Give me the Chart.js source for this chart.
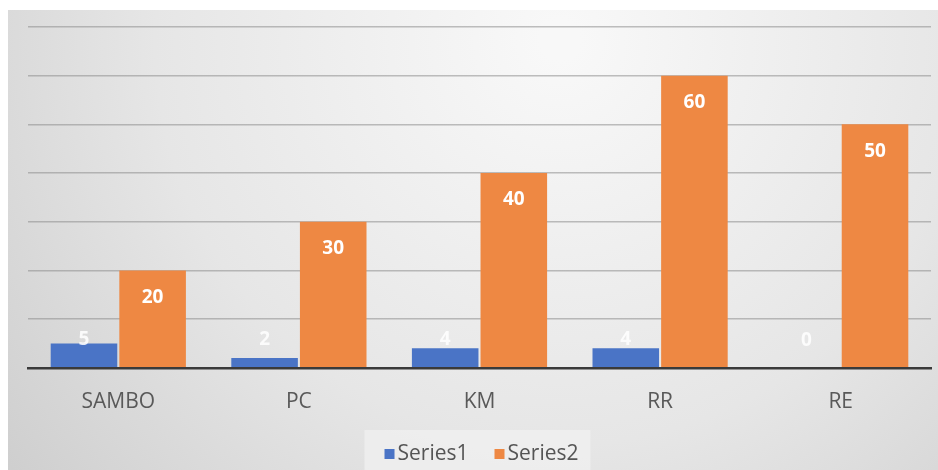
<!DOCTYPE html>
<html>
<head>
<meta charset="utf-8">
<script src="https://cdn.jsdelivr.net/npm/chart.js@4.4.1/dist/chart.umd.min.js"></script>
<style>
    html, body { margin: 0; padding: 0; background: #ffffff; }
    #wrap { width: 938px; height: 470px; }
</style>
</head>
<body>
<div id="wrap"><canvas id="barChart" width="938" height="470"></canvas></div>
<script>
// Chart data
const categories = ['SAMBO', 'PC', 'KM', 'RR', 'RE'];
const series1 = [5, 2, 4, 4, 0];
const series2 = [20, 30, 40, 60, 50];
const seriesNames = ['Series1', 'Series2'];
const seriesColors = ['#4a74c6', '#ee8843'];

const FONT = '"Open Sans", sans-serif';

// Gray gradient panel behind the chart
const backgroundPlugin = {
    id: 'panelBackground',
    beforeDraw(chart) {
        const ctx = chart.ctx;
        ctx.save();
        const g = ctx.createRadialGradient(560, 40, 20, 560, 40, 720);
        g.addColorStop(0, '#f8f8f8');
        g.addColorStop(0.55, '#e6e6e6');
        g.addColorStop(1, '#cdcdcd');
        ctx.fillStyle = g;
        ctx.fillRect(8, 10, chart.width - 8, chart.height - 10);
        ctx.restore();
    }
};

// White value labels near the top of each bar
const valueLabelPlugin = {
    id: 'valueLabels',
    afterDatasetsDraw(chart) {
        const ctx = chart.ctx;
        ctx.save();
        ctx.font = 'bold 19px ' + FONT;
        ctx.textAlign = 'center';
        ctx.textBaseline = 'middle';
        chart.data.datasets.forEach((ds, i) => {
            const meta = chart.getDatasetMeta(i);
            ctx.fillStyle = i === 0 ? 'rgba(255,255,255,0.85)' : '#ffffff';
            meta.data.forEach((bar, j) => {
                // short bars: keep label inside the plot above the base
                const y = Math.min(bar.y + 27, bar.base - 27);
                ctx.fillText(String(ds.data[j]), bar.x, y);
            });
        });
        ctx.restore();
    }
};

// Legend drawn by hand so spacing can follow the original
const legendPlugin = {
    id: 'bottomLegend',
    afterDraw(chart) {
        const ctx = chart.ctx;
        const area = chart.chartArea;
        ctx.save();
        ctx.font = '21px ' + FONT;
        ctx.textBaseline = 'middle';
        const box = 10, gap = 3, itemGap = 26;
        const items = chart.data.datasets.map(ds => ({
            text: ds.label,
            color: ds.backgroundColor,
            w: box + gap + ctx.measureText(ds.label).width
        }));
        const total = items.reduce((s, it) => s + it.w, 0) + itemGap * (items.length - 1);
        let x = (area.left + area.right) / 2 - total / 2 + 2;
        const cy = 454;

        ctx.fillStyle = 'rgba(240,240,240,0.75)';
        ctx.fillRect(x - 20, 430, total + 32, 40);

        items.forEach(it => {
            ctx.fillStyle = it.color;
            ctx.fillRect(x, cy - box / 2, box, box);
            ctx.fillStyle = '#555555';
            ctx.fillText(it.text, x + box + gap, cy);
            x += it.w + itemGap;
        });
        ctx.restore();
    }
};

const ctx = document.getElementById('barChart').getContext('2d');
const barChart = new Chart(ctx, {
    type: 'bar',
    data: {
        labels: categories,
        datasets: [{
            label: seriesNames[0],
            data: series1,
            backgroundColor: seriesColors[0],
            categoryPercentage: 0.76,
            barPercentage: 0.97
        }, {
            label: seriesNames[1],
            data: series2,
            backgroundColor: seriesColors[1],
            categoryPercentage: 0.76,
            barPercentage: 0.97
        }]
    },
    options: {
        responsive: false,
        animation: false,
        layout: {
            padding: { top: 27, left: 28, right: 7, bottom: 33 }
        },
        scales: {
            x: {
                grid: { display: false, drawTicks: false },
                border: { display: true, color: '#3a3a3a', width: 2.5 },
                ticks: {
                    padding: 22,
                    color: '#595959',
                    font: { family: FONT, size: 21 }
                }
            },
            y: {
                min: 0,
                max: 70,
                grid: { color: 'rgba(140,140,140,0.55)', lineWidth: 1.5, drawTicks: false },
                border: { display: false },
                ticks: { display: false, stepSize: 10 }
            }
        },
        plugins: {
            legend: { display: false },
            tooltip: { enabled: false }
        }
    },
    plugins: [backgroundPlugin, valueLabelPlugin, legendPlugin]
});
</script>
</body>
</html>
